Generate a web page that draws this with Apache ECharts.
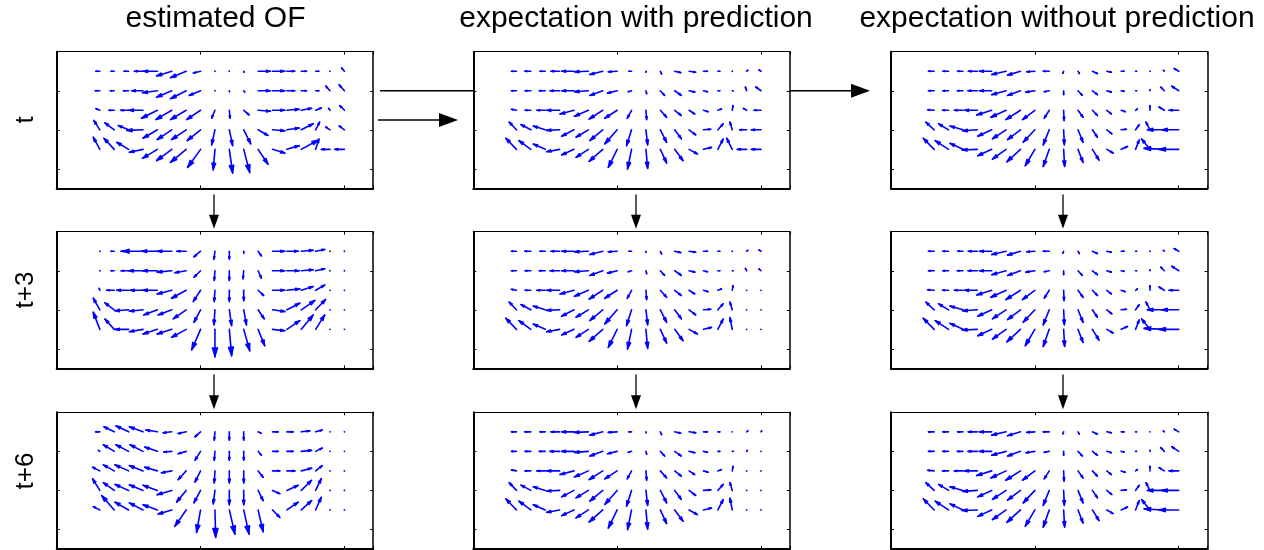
<!DOCTYPE html>
<html><head><meta charset="utf-8">
<script src="https://cdn.jsdelivr.net/npm/echarts@6/dist/echarts.min.js"></script>
<style>html,body{margin:0;padding:0;background:#fff}#c{width:1264px;height:550px}</style>
</head><body><div id="c"></div>
<script>
// ---------------- data ----------------
const colTitles = ['estimated OF', 'expectation with prediction', 'expectation without prediction'];
const rowLabels = ['t', 't+3', 't+6'];
const gridX = [30,40,50,60,70,80,90,100,110,120,130,140,150,160,170,180,190,200];
const gridY = [10,20,30,40,50];

// estimated OF, t
const estT_U = [
 [-2.8,-2.3,-3.2,-6,-10,-10.6,-10.9,-5,0.3,0.2,0.2,8.6,8.6,5.5,3.7,2.3,0.4,-2],
 [-3.2,-2.8,-3.7,-7.9,-10.4,-10.6,-10.9,-7.9,0.2,0.1,0.7,8.6,8.6,5.5,3.7,2.3,-3,-3.7],
 [-2.8,-3.7,-5.6,-10,-11.1,-11.1,-10.9,-9.7,-2.3,0.5,3.7,8.6,8.6,8.6,7.2,3.9,-1,-3.2],
 [-4.2,-6.5,-7.2,-11.3,-10,-10.2,-10.2,-9.3,-2.3,2.3,4.9,6.9,8.6,8.6,8.3,2.8,-3,-3.7],
 [-4.6,-7.2,-8.3,-9.5,-10.4,-10.6,-10.9,-9,-1.2,2.3,4.2,6.9,8.6,8.6,11.8,2.3,-6,-6.7]];
const estT_V = [
 [0,0,0,0,0,2.4,3.3,0.9,0,0,0.5,0,0,0,0,0,0,-1.7],
 [0,0,0,0,1,3.3,4.1,2.4,0.3,0.5,0.7,0,0,0,0,0,-2.4,-3.1],
 [-0.9,0,0,0,4.1,4.8,4.8,4.8,4.1,4.1,2.4,0.5,0,-0.5,-1,-1.2,-1,-2.4],
 [-4.8,-3.6,-2.2,0.3,4.3,5,5,5.5,7.7,8.1,7.2,2.9,0.5,-0.9,-3.1,-4,-1.5,-2],
 [-6.2,-5.7,-3.6,1.5,4.6,5.8,6.7,9.3,10.5,12.2,11.9,7.6,1.9,-1.9,-4.8,-5.3,0,0]];

// expectation with prediction, t
const withT_U = [
 [-3.5,-4.2,-3.7,-6,-8.6,-9.7,-9,-6.2,-1.9,0,0.9,4.2,4.6,2.8,1.4,0.5,0.9,-1.5],
 [-3.5,-4,-4.2,-6.7,-8.6,-9.7,-9,-6.7,-2.3,0.5,3,4.6,4,2.8,1.4,0.7,-0.9,-3.7],
 [-3.5,-4,-5.8,-9,-9.7,-9.7,-9.5,-8.6,-3,0.5,4.4,4.6,3.9,3.2,2.5,0.5,-2.3,-4.9],
 [-5.1,-6.9,-8.3,-9,-8.6,-8.6,-9,-8.6,-3.5,1.2,4.4,4.6,4.6,5.1,3.7,-1.6,-4.9,-6.7],
 [-7.4,-8.3,-8.3,-9,-8.6,-8.6,-9.5,-6.2,-2.8,1.2,4.4,5.8,5.8,5.6,3.7,-3.9,-6.5,-6.7]];
const withT_V = [
 [0,0,0,0,0,0.3,1.7,0.3,0,0.5,1.4,0.7,0.5,0,0,0,-0.5,-0.7],
 [0,0,0,0,0,0.5,2.4,1.2,0.5,1.5,2.4,2.4,0.7,0.5,0,0,-1.9,-2],
 [-0.5,0,0,0,1.9,3.1,4.5,4.1,4.1,4.8,3.6,2.7,1.9,0.7,-0.7,-2.4,-1,0],
 [-4,-2.7,-1.9,0.3,3.3,3.8,5.5,7.2,8.1,7.7,6.4,4.6,2.6,-0.3,-3.1,-4,0,0],
 [-5.7,-4.5,-2.7,1.2,2.9,4.1,6.2,9.3,10.1,9.8,7,5.8,2.4,-1,-5.3,-5.7,0,0]];

// expectation without prediction, t
const woT_U = [
 [-4,-4,-3.7,-6.3,-8.6,-10,-9,-5.6,-4.2,-0.5,0.9,3.5,3.2,2.1,0.7,0.2,-0.7,-3.2],
 [-4,-4,-3.9,-6.5,-8.6,-10,-9,-6.2,-3.5,0,3,3.5,3.2,2.1,0.7,0,-2.5,-4.9],
 [-4.6,-4.2,-6,-9,-10.4,-10.6,-10.2,-8.6,-3.5,0.3,3.5,3.5,3.2,2.8,1.3,0,-3.7,-6.7],
 [-5.8,-6.9,-9,-10.2,-9.7,-9.5,-9,-8.1,-4.2,0.5,3.5,3.5,3.5,3.7,2.5,-2.8,-11.8,-11.8],
 [-7.6,-9.3,-9,-10.6,-9.7,-9.5,-9.5,-6.7,-4.2,0.7,3.5,4.6,4.4,4.4,2.5,-5.8,-14.1,-13.7]];
const woT_V = [
 [0,0,0,0,0,1.7,2,0.3,0,1,1.2,1.2,0.5,0,0,0,-0.5,-1.4],
 [0,0,0,0,0,2,2.4,0.7,0.5,2,2.4,2,0.7,0.3,0,-0.5,-1.9,-2.4],
 [-0.3,0,0,0,2.4,3.6,4.8,4.8,4.1,5.3,3.6,2.7,1.9,0.7,-0.7,-2.4,-1.7,0],
 [-4,-3.1,-1.9,0.5,3.3,4.6,5,6.4,7.7,7.7,6.4,3.8,2.1,-0.3,-2.6,-4,0,0],
 [-5.7,-4.5,-3.1,0.3,3.3,5,6.4,8.4,8.8,8.8,6.7,5.5,1.9,-1.5,-4.8,-5.3,-0.5,0]];

// estimated OF, t+3
const estT3_U = [
 [0.2,-2.3,-5.3,-14.4,-11,-10.2,-6.5,-4.6,-0.7,0,0,2.3,8.6,7.9,8.3,6.3,0.2,0.2],
 [0.2,-2.3,-5.3,-10,-10.4,-10.2,-7.9,-4.6,-0.5,0,-0.5,2.3,8.6,8.6,8.3,6.3,0.2,0.2],
 [-0.5,-5.3,-8.3,-9,-10.4,-10.2,-10.2,-5.1,-0.5,0,0,3.9,8.6,9,8.3,6.3,0.2,0.2],
 [-4.6,-6.5,-9.5,-9.5,-9.5,-9.5,-9,-4.6,-0.7,1.6,1.9,4.2,8.6,9,9.5,6.9,0.2,0.2],
 [-4.6,-6.5,-9.5,-9.5,-10,-10.2,-10.2,-6.2,0,1.6,4.2,4.6,8.6,9,8.3,6.3,0.2,0.2]];
const estT3_V = [
 [0,0,0,0,0,0,0,2.9,4.1,4.1,1,2.4,0,0,-0.5,-0.9,0,0],
 [0,0,0,0,0,0.7,1,3.3,5,5,4.1,3.8,0,0,-0.5,-1,0,0],
 [-1,0,0,0,0,1.9,4.1,5.8,5.8,5.8,5.3,2.7,0,-0.7,-1.9,-2.7,0,0],
 [-6,-3.6,0.5,0.7,2.6,2.6,4.6,6.4,7.7,8.1,7.7,4.6,0.9,-3.4,-4.8,-5.3,0,0],
 [-8.8,-5.3,0,1.2,2.4,2.4,4.1,10.5,14.1,13.6,11,8.4,0.7,-4.5,-7.4,-7.4,0,0]];

// expectation with prediction, t+3
const withT3_U = [
 [-3.5,-4.2,-3.7,-6,-8.6,-9.7,-9,-6.2,-1.9,0,0.9,4.2,4.6,2.8,1.4,0.5,0.9,-1.5],
 [-3.5,-4,-4.2,-6.7,-8.6,-9.7,-9,-6.7,-2.3,0.5,3,4.6,4,2.8,1.4,0.7,-0.9,-1.5],
 [-3.5,-4,-5.8,-9,-9.7,-9.7,-9.5,-8.6,-3,0.5,4.4,4.6,3.9,3.2,2.5,0.5,0.2,0.2],
 [-5.1,-6.9,-8.3,-9,-8.6,-8.6,-9,-8.6,-3.5,1.2,4.4,4.6,4.6,5.1,3.7,-1.6,0.2,0.2],
 [-7.4,-8.3,-8.3,-9,-8.6,-8.6,-9.5,-6.2,-2.8,1.2,4.4,5.8,5.8,5.6,3.7,-1.6,0.2,0.2]];
const withT3_V = [
 [0,0,0,0,0,0.3,1.7,0.3,0,0.5,1.4,0.7,0.5,0,0,0,-0.5,-0.7],
 [0,0,0,0,0,0.5,2.4,1.2,0.5,1.5,2.4,2.4,0.7,0.5,0,0,-1.2,-1],
 [-0.5,0,0,0,1.9,3.1,4.5,4.1,4.1,4.8,3.6,2.7,1.9,0.7,-0.7,-2.4,0,0],
 [-4,-2.7,-1.9,0.3,3.3,3.8,5.5,7.2,8.1,7.7,6.4,4.6,2.6,-0.3,-3.1,-4,0,0],
 [-5.7,-4.5,-2.7,1.2,2.9,4.1,6.2,9.3,10.1,9.8,7,5.8,2.4,-1,-5.3,-6,0,0]];

// expectation without prediction, t+3
const woT3_U = [
 [-4,-4,-3.7,-6.3,-8.6,-10,-9,-5.6,-4.2,-0.5,0.9,3.5,3.2,2.1,0.7,0.2,-0.7,-3.2],
 [-4,-4,-3.9,-6.5,-8.6,-10,-9,-6.2,-3.5,0,3,3.5,3.2,2.1,0.7,0,-2.5,-4.9],
 [-4.6,-4.2,-6,-9,-10.4,-10.6,-10.2,-8.6,-3.5,0.3,3.5,3.5,3.2,2.8,1.3,0,-3.7,-6.7],
 [-5.8,-6.9,-9,-10.2,-9.7,-9.5,-9,-8.1,-4.2,0.5,3.5,3.5,3.5,3.7,2.5,-2.8,-11.8,-11.8],
 [-7.6,-9.3,-9,-10.6,-9.7,-9.5,-9.5,-6.7,-4.2,0.7,3.5,4.6,4.4,4.4,2.5,-5.8,-14.1,-13.7]];
const woT3_V = [
 [0,0,0,0,0,1.7,2,0.3,0,1,1.2,1.2,0.5,0,0,0,-0.5,-1.4],
 [0,0,0,0,0,2,2.4,0.7,0.5,2,2.4,2,0.7,0.3,0,-0.5,-1.9,-2.4],
 [-0.3,0,0,0,2.4,3.6,4.8,4.8,4.1,5.3,3.6,2.7,1.9,0.7,-0.7,-2.4,-1.7,0],
 [-4,-3.1,-1.9,0.5,3.3,4.6,5,6.4,7.7,7.7,6.4,3.8,2.1,-0.3,-2.6,-4,0,0],
 [-5.7,-4.5,-3.1,0.3,3.3,5,6.4,8.4,8.8,8.8,6.7,5.5,1.9,-1.5,-4.8,-5.3,-0.5,0]];

// estimated OF, t+6
const estT6_U = [
 [-3,-7.2,-8.8,-9.5,-8.1,-6,-5.6,-3.9,-0.5,0,0,2.1,3.9,4.4,6,4.6,0.2,0.2],
 [-1,-7.6,-8.8,-9,-8.8,-5.6,-5.6,-3.9,-0.5,0,0,2.3,3.9,4.4,7.2,4.6,0.2,0.2],
 [-5.1,-7.6,-9.5,-9.5,-8.8,-7.2,-5.6,-3.9,-0.5,0,0,3.5,5.1,5.6,7.2,4.6,0.2,0.2],
 [-5.1,-7.6,-9.5,-9.5,-10,-10.2,-6.7,-4.6,-1.2,0,0,3.5,5.1,7.9,7.2,3.9,0.2,0.2],
 [-4.6,-8.8,-9.5,-9.5,-10,-9.5,-7.9,-2.8,0.5,3.9,3.7,3.5,5.1,7.9,7.2,3.9,0.2,0.2]];
const estT6_V = [
 [0,-2.6,-3.1,-2.6,-0.9,0.5,0.9,2.6,4.3,4.3,4.3,0.7,0,0,-0.5,-0.9,0,0],
 [-0.5,-3.4,-3.4,-3.4,-2.2,0.3,1.2,4.6,4.6,4.6,4.6,2,0,0,-0.5,-1.7,0,0],
 [-1.9,-3.1,-3.1,-2.7,-1.9,1,4.5,5.8,6.2,6.2,6.2,3.3,0,0,-1.4,-2.7,0,0],
 [-6,-4,-3.1,-2.9,-2.6,2.2,6,6.4,6.9,7.4,7.4,5.2,1.7,-2.6,-5.2,-6,0,0],
 [-1.7,-7.4,-4,-3.6,-2.6,2.1,8.4,11.5,14.1,12.4,12.4,11.2,3.8,-4,-4.8,-6.5,0,0]];

// expectation with prediction, t+6
const withT6_U = [
 [-3.5,-4.2,-3.7,-6,-8.6,-9.7,-9,-6.2,-1.9,0,0.9,4.2,4.6,2.8,1.4,0.5,0.9,0.5],
 [-3.5,-4,-4.2,-6.7,-8.6,-9.7,-9,-6.7,-2.3,0.5,3,4.6,4,2.8,1.4,0.7,0.5,0.2],
 [-3.5,-4,-5.8,-9,-9.7,-9.7,-9.5,-8.6,-3,0.5,4.4,4.6,3.9,3.2,2.5,0.5,0.2,0.2],
 [-5.1,-6.9,-8.3,-9,-8.6,-8.6,-9,-8.6,-3.5,1.2,4.4,4.6,4.6,5.1,3.7,-1.6,0.2,0.2],
 [-7.4,-8.3,-8.3,-9,-8.6,-8.6,-9.5,-6.2,-2.8,1.2,4.4,5.8,5.8,5.6,3.7,-1.6,0.2,0.2]];
const withT6_V = [
 [0,0,0,0,0,0.3,1.7,0.3,0,0.5,1.4,0.7,0.5,0,0,0,-0.5,-0.5],
 [0,0,0,0,0,0.5,2.4,1.2,0.5,1.5,2.4,2.4,0.7,0.5,0,0,-0.5,0],
 [-0.5,0,0,0,1.9,3.1,4.5,4.1,4.1,4.8,3.6,2.7,1.9,0.7,-0.7,-2.4,0,0],
 [-4,-2.7,-1.9,0.3,3.3,3.8,5.5,7.2,8.1,7.7,6.4,4.6,2.6,-0.3,-3.1,-4,0,0],
 [-5.7,-4.5,-2.7,1.2,2.9,4.1,6.2,9.3,10.1,9.8,7,5.8,2.4,-1,-5.3,-6,0,0]];

// expectation without prediction, t+6
const woT6_U = [
 [-4,-4,-3.7,-6.3,-8.6,-10,-9,-5.6,-4.2,-0.5,0.9,3.5,3.2,2.1,0.7,0.2,-0.7,-3.2],
 [-4,-4,-3.9,-6.5,-8.6,-10,-9,-6.2,-3.5,0,3,3.5,3.2,2.1,0.7,0,-2.5,-4.9],
 [-4.6,-4.2,-6,-9,-10.4,-10.6,-10.2,-8.6,-3.5,0.3,3.5,3.5,3.2,2.8,1.3,0,-3.7,-6.7],
 [-5.8,-6.9,-9,-10.2,-9.7,-9.5,-9,-8.1,-4.2,0.5,3.5,3.5,3.5,3.7,2.5,-2.8,-11.8,-11.8],
 [-7.6,-9.3,-9,-10.6,-9.7,-9.5,-9.5,-6.7,-4.2,0.7,3.5,4.6,4.4,4.4,2.5,-5.8,-14.1,-13.7]];
const woT6_V = [
 [0,0,0,0,0,1.7,2,0.3,0,1,1.2,1.2,0.5,0,0,0,-0.5,-1.4],
 [0,0,0,0,0,2,2.4,0.7,0.5,2,2.4,2,0.7,0.3,0,-0.5,-1.9,-2.4],
 [-0.3,0,0,0,2.4,3.6,4.8,4.8,4.1,5.3,3.6,2.7,1.9,0.7,-0.7,-2.4,-1.7,0],
 [-4,-3.1,-1.9,0.5,3.3,4.6,5,6.4,7.7,7.7,6.4,3.8,2.1,-0.3,-2.6,-4,0,0],
 [-5.7,-4.5,-3.1,0.3,3.3,5,6.4,8.4,8.8,8.8,6.7,5.5,1.9,-1.5,-4.8,-5.3,-0.5,0]];

const panels = [
 [estT_U, estT_V], [withT_U, withT_V], [woT_U, woT_V],
 [estT3_U, estT3_V], [withT3_U, withT3_V], [woT3_U, woT3_V],
 [estT6_U, estT6_V], [withT6_U, withT6_V], [woT6_U, woT6_V]];

// ---------------- layout ----------------
const colLeft = [56.7, 473.3, 891];
const rowTop = [51.7, 231.7, 412.3];
const panelW = 316.5, panelH = 136.7;
const BLUE = '#0000ff';

const grids = [], xAxes = [], yAxes = [], series = [];
panels.forEach((p, k) => {
  const r = Math.floor(k / 3), c = k % 3;
  grids.push({left: colLeft[c], top: rowTop[r], width: panelW, height: panelH, containLabel: false});
  const tick = {show: true, inside: true, length: 3, lineStyle: {color: '#000', width: 1}};
  const ax = (pos, w) => ({gridIndex: k, type: 'value', position: pos, min: 0, max: 220, interval: 100,
    axisLine: {show: true, onZero: false, lineStyle: {color: '#000', width: w}},
    axisTick: tick, axisLabel: {show: false}, splitLine: {show: false}});
  const ay = (pos, w) => ({gridIndex: k, type: 'value', position: pos, min: 0, max: 70, interval: 20, inverse: true,
    axisLine: {show: true, onZero: false, lineStyle: {color: '#000', width: w}},
    axisTick: tick, axisLabel: {show: false}, splitLine: {show: false}});
  xAxes.push(ax('bottom', 2)); xAxes.push(ax('top', 1));
  yAxes.push(ay('left', 2)); yAxes.push(ay('right', 1.5));
  const data = [];
  gridY.forEach((y, i) => gridX.forEach((x, j) => data.push([x, y, p[0][i][j], p[1][i][j]])));
  series.push({
    type: 'custom', xAxisIndex: 2 * k, yAxisIndex: 2 * k, data: data, encode: {x: 0, y: 1},
    silent: true, animation: false,
    renderItem: function (params, api) {
      const x = api.value(0), y = api.value(1), u = api.value(2), v = api.value(3);
      const p0 = api.coord([x, y]);
      const p1 = api.coord([x + u, y + v]);
      const dx = p1[0] - p0[0], dy = p1[1] - p0[1];
      const L = Math.hypot(dx, dy);
      const st = {stroke: BLUE, lineWidth: 1.6, fill: null, lineCap: 'round', lineJoin: 'round'};
      if (L < 0.8) {
        return {type: 'circle', shape: {cx: p0[0], cy: p0[1], r: 0.9}, style: {fill: BLUE}};
      }
      const a = 0.33, b = 0.3;
      const h1 = [p1[0] - a * (dx + b * dy), p1[1] - a * (dy - b * dx)];
      const h2 = [p1[0] - a * (dx - b * dy), p1[1] - a * (dy + b * dx)];
      return {type: 'group', children: [
        {type: 'line', shape: {x1: p0[0], y1: p0[1], x2: p1[0], y2: p1[1]}, style: st},
        {type: 'polygon', shape: {points: [h1, p1, h2]}, style: {stroke: BLUE, lineWidth: 1.2, fill: BLUE, lineJoin: 'round'}}
      ]};
    }
  });
});

// ---------------- annotations ----------------
const graphic = [];
const titleX = [215.5, 636, 1057];
colTitles.forEach((t, c) => graphic.push({type: 'text', x: titleX[c], y: 19,
  style: {text: t, font: '30px "Liberation Sans", Arial, sans-serif', fill: '#000', textAlign: 'center', textVerticalAlign: 'middle'}}));
const labelY = [120, 290, 471];
rowLabels.forEach((t, r) => graphic.push({type: 'text', x: 26, y: labelY[r], rotation: Math.PI / 2,
  style: {text: t, font: '26px "Liberation Sans", Arial, sans-serif', fill: '#000', textAlign: 'center', textVerticalAlign: 'middle'}}));

function arrowH(x1, x2, y, headLen, headW) {
  graphic.push({type: 'line', shape: {x1: x1, y1: y, x2: x2 - headLen + 1, y2: y}, style: {stroke: '#000', lineWidth: 1.3}});
  graphic.push({type: 'polygon', shape: {points: [[x2, y], [x2 - headLen, y - headW], [x2 - headLen, y + headW]]}, style: {fill: '#000'}});
}
function arrowV(x, y1, y2, headLen, headW) {
  graphic.push({type: 'line', shape: {x1: x, y1: y1, x2: x, y2: y2 - headLen + 1}, style: {stroke: '#000', lineWidth: 1.3}});
  graphic.push({type: 'polygon', shape: {points: [[x, y2], [x - headW, y2 - headLen], [x + headW, y2 - headLen]]}, style: {fill: '#000'}});
}
// horizontal connectors
const yTop = rowTop[0] + panelH * 20 / 70;
graphic.push({type: 'line', shape: {x1: 380, y1: yTop, x2: colLeft[1], y2: yTop}, style: {stroke: '#000', lineWidth: 1.3}});
arrowH(378, 458, 120, 19, 7);
arrowH(colLeft[1] + panelW, 870, yTop, 19, 7);
// vertical connectors
const downX = [214, 636, 1063];
downX.forEach(x => {
  arrowV(x, rowTop[0] + panelH + 6, rowTop[1] - 3, 14, 5);
  arrowV(x, rowTop[1] + panelH + 6, rowTop[2] - 3, 14, 5);
});

const chart = echarts.init(document.getElementById('c'), null, {renderer: 'canvas'});
chart.setOption({animation: false, backgroundColor: '#fff', grid: grids, xAxis: xAxes, yAxis: yAxes, series: series, graphic: graphic});
</script></body></html>
